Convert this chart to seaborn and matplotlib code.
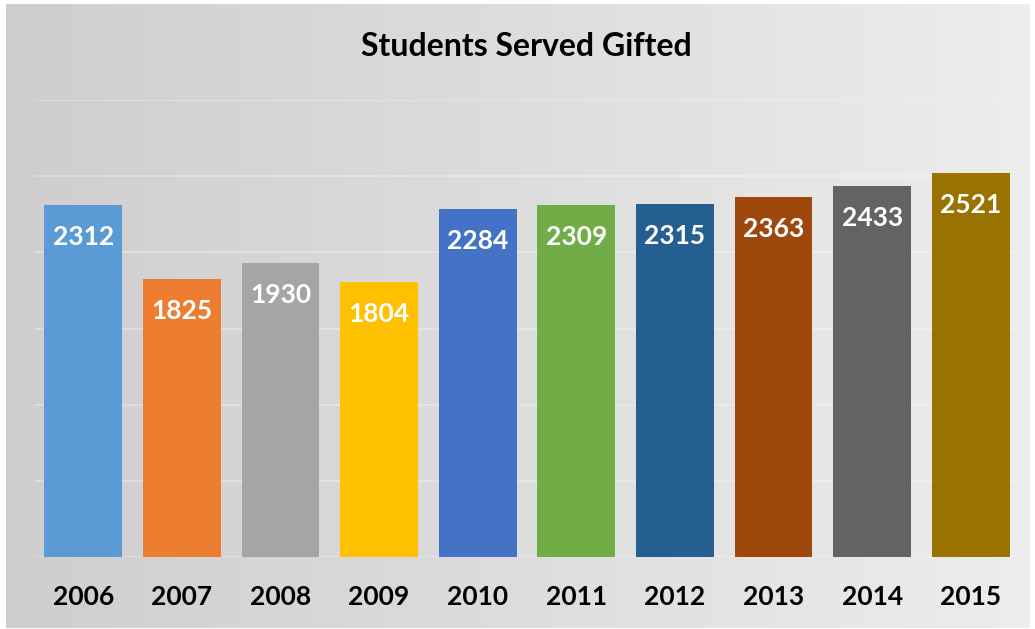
import numpy as np
import pandas as pd
import matplotlib
matplotlib.use("Agg")
import matplotlib.pyplot as plt
import seaborn as sns
from matplotlib.colors import LinearSegmentedColormap

years = ["2006", "2007", "2008", "2009", "2010", "2011", "2012", "2013", "2014", "2015"]
students = [2312, 1825, 1930, 1804, 2284, 2309, 2315, 2363, 2433, 2521]
bar_colors = ["#5B9BD5", "#ED7D31", "#A5A5A5", "#FFC000", "#4472C4",
              "#70AD47", "#255E91", "#9E480E", "#636363", "#997300"]
title = "Students Served Gifted"

sns.set_style("white")
plt.rcParams['font.family'] = ['Lato', 'DejaVu Sans']

df = pd.DataFrame({"year": years, "students": students})

fig = plt.figure(figsize=(10.35, 6.29), dpi=100)
fig.patch.set_facecolor("white")

# gradient background panel
bg = fig.add_axes([6/1035, 1/629, 1024/1035, 624/629], zorder=0)
grad = np.linspace(0, 1, 256).reshape(1, -1)
cmap = LinearSegmentedColormap.from_list("bg", ["#cfcdcd", "#ededed"])
bg.imshow(grad, aspect="auto", cmap=cmap, extent=[0, 1, 0, 1])
bg.set_axis_off()

ax = fig.add_axes([34/1035, 72/629, 986/1035, 457/629], zorder=1)
ax.patch.set_alpha(0)
sns.barplot(data=df, x="year", y="students", hue="year", palette=bar_colors,
            legend=False, width=0.79, ax=ax, saturation=1, linewidth=0)
ax.set_xlim(-0.5, 9.5)
ax.set_ylim(0, 3000)
ax.set_yticks(np.arange(0, 3001, 500))
ax.yaxis.grid(True, color="white", alpha=0.35, linewidth=1.2)
ax.set_axisbelow(True)
ax.tick_params(axis="y", left=False, labelleft=False)
ax.tick_params(axis="x", length=0, pad=20)
for lbl in ax.get_xticklabels():
    lbl.set_fontsize(19)
    lbl.set_fontweight("bold")
    lbl.set_color("black")
ax.set_xlabel("")
ax.set_ylabel("")
for s in ax.spines.values():
    s.set_visible(False)

for i, v in enumerate(students):
    ax.annotate(str(v), xy=(i, v), xytext=(0, -23), textcoords="offset points",
                ha="center", va="center", color="white", fontsize=19,
                fontweight="bold")

fig.text(526/1035, 1 - 47/629, title, ha="center", va="center",
         fontsize=23, fontweight="bold", color="black")

fig.savefig("out.png", dpi=100)
